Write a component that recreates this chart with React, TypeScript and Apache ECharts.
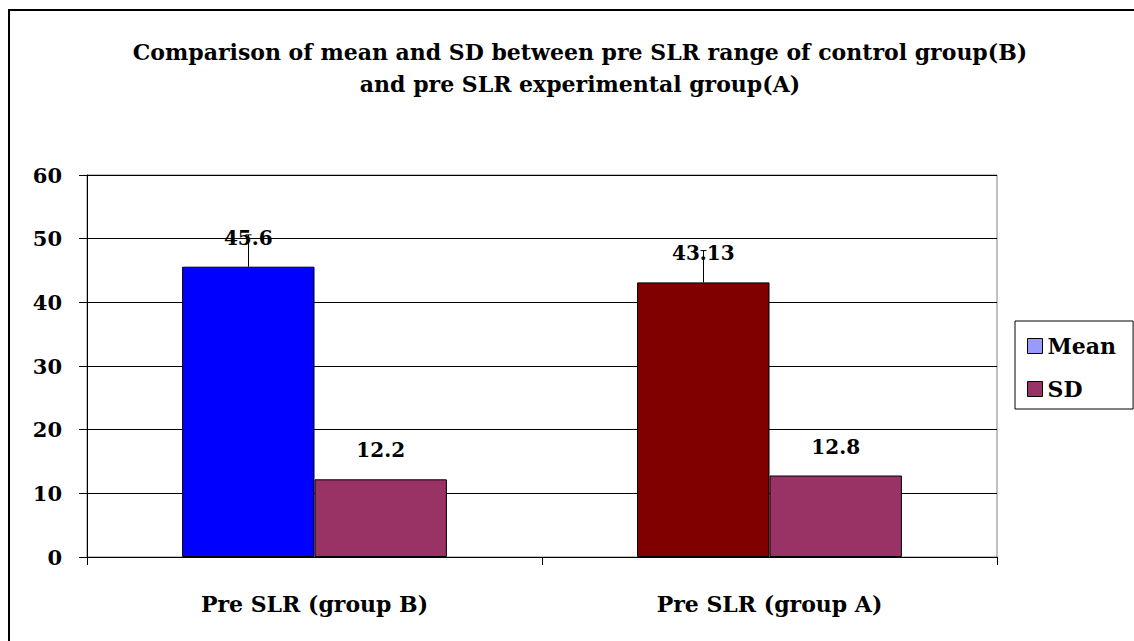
import React, { useEffect, useRef } from "react";
import * as echarts from "echarts";

const categories = ["Pre SLR (group B)", "Pre SLR (group A)"];
const meanValues = [45.6, 43.13];
const meanColors = ["#0000FF", "#800000"];
const meanErrors = [5, 5];
const sdValues = [12.2, 12.8];
const yTicks = { min: 0, max: 60, interval: 10 };
const titleText =
  "Comparison of mean and SD between pre SLR range of control group(B)\nand pre SLR experimental group(A)";

const FONT = "DejaVu Serif";
const CAT_GAP = 0.418;

export default function App() {
  const ref = useRef<HTMLDivElement>(null);
  useEffect(() => {
    if (!ref.current) return;
    const chart = echarts.init(ref.current, null, { renderer: "svg" });
    const labelStyle = {
      show: true,
      position: "top",
      distance: 19,
      color: "#000",
      fontFamily: FONT,
      fontWeight: "bold",
      fontSize: 20,
    };
    chart.setOption({
      animation: false,
      backgroundColor: "#fff",
      textStyle: { fontFamily: FONT },
      graphic: [
        {
          type: "rect",
          shape: { x: 9, y: 10, width: 1300, height: 800 },
          style: { fill: "none", stroke: "#000", lineWidth: 2 },
          silent: true,
        },
        {
          type: "text",
          x: 580,
          y: 36,
          style: {
            text: titleText,
            textAlign: "center",
            fill: "#000",
            fontFamily: FONT,
            fontWeight: "bold",
            fontSize: 22,
            lineHeight: 32,
          },
        },
      ],
      grid: {
        left: 87,
        top: 175,
        right: 137,
        bottom: 84,
        show: true,
        borderColor: "#808080",
        borderWidth: 1,
        backgroundColor: "transparent",
      },
      legend: {
        orient: "vertical",
        left: 1015,
        top: 321,
        padding: [14, 17, 9, 12],
        itemGap: 21,
        itemWidth: 15,
        itemHeight: 15,
        borderColor: "#000",
        borderWidth: 1,
        icon: "rect",
        itemStyle: { borderColor: "#000", borderWidth: 1 },
        textStyle: { color: "#000", fontFamily: FONT, fontWeight: "bold", fontSize: 22 },
        data: ["Mean", "SD"],
      },
      xAxis: {
        type: "category",
        data: categories,
        axisLine: { lineStyle: { color: "#000", width: 1 } },
        axisTick: { show: true, length: 8, lineStyle: { color: "#000" } },
        axisLabel: {
          color: "#000",
          fontFamily: FONT,
          fontWeight: "bold",
          fontSize: 22,
          margin: 36,
        },
      },
      yAxis: {
        type: "value",
        min: yTicks.min,
        max: yTicks.max,
        interval: yTicks.interval,
        axisLine: { show: true, lineStyle: { color: "#000", width: 1 } },
        axisTick: { show: true, length: 8, lineStyle: { color: "#000" } },
        splitLine: { show: true, lineStyle: { color: "#000", width: 1 } },
        axisLabel: {
          color: "#000",
          fontFamily: FONT,
          fontWeight: "bold",
          fontSize: 21,
          margin: 25,
        },
      },
      series: [
        {
          name: "Mean",
          type: "bar",
          barGap: "0%",
          barCategoryGap: CAT_GAP * 100 + "%",
          itemStyle: { color: "#9999FF", borderColor: "#000", borderWidth: 1 },
          data: meanValues.map((v, i) => ({ value: v, itemStyle: { color: meanColors[i] } })),
          label: labelStyle,
          z: 2,
        },
        {
          name: "SD",
          type: "bar",
          itemStyle: { color: "#993366", borderColor: "#000", borderWidth: 1 },
          data: sdValues,
          label: labelStyle,
          z: 2,
        },
        {
          name: "err",
          type: "custom",
          z: 3,
          data: meanValues.map((v, i) => [i, v, meanErrors[i]]),
          renderItem: (params: any, api: any) => {
            const idx = api.value(0);
            const v = api.value(1);
            const e = api.value(2);
            const band = api.size([1, 0])[0];
            const barW = (band * (1 - CAT_GAP)) / 2;
            const p0 = api.coord([idx, v]);
            const p1 = api.coord([idx, v + e]);
            const x = Math.round(p0[0] - barW / 2) + 0.5;
            return {
              type: "group",
              children: [
                {
                  type: "line",
                  shape: { x1: x, y1: p0[1], x2: x, y2: p1[1] },
                  style: { stroke: "#000", lineWidth: 1 },
                },
                {
                  type: "line",
                  shape: { x1: x - 3, y1: p1[1], x2: x + 3, y2: p1[1] },
                  style: { stroke: "#000", lineWidth: 1 },
                },
              ],
            };
          },
        },
      ],
    });
    return () => chart.dispose();
  }, []);
  return (
    <div
      ref={ref}
      style={{ position: "absolute", left: 0, top: 0, width: 1134, height: 641 }}
    />
  );
}
